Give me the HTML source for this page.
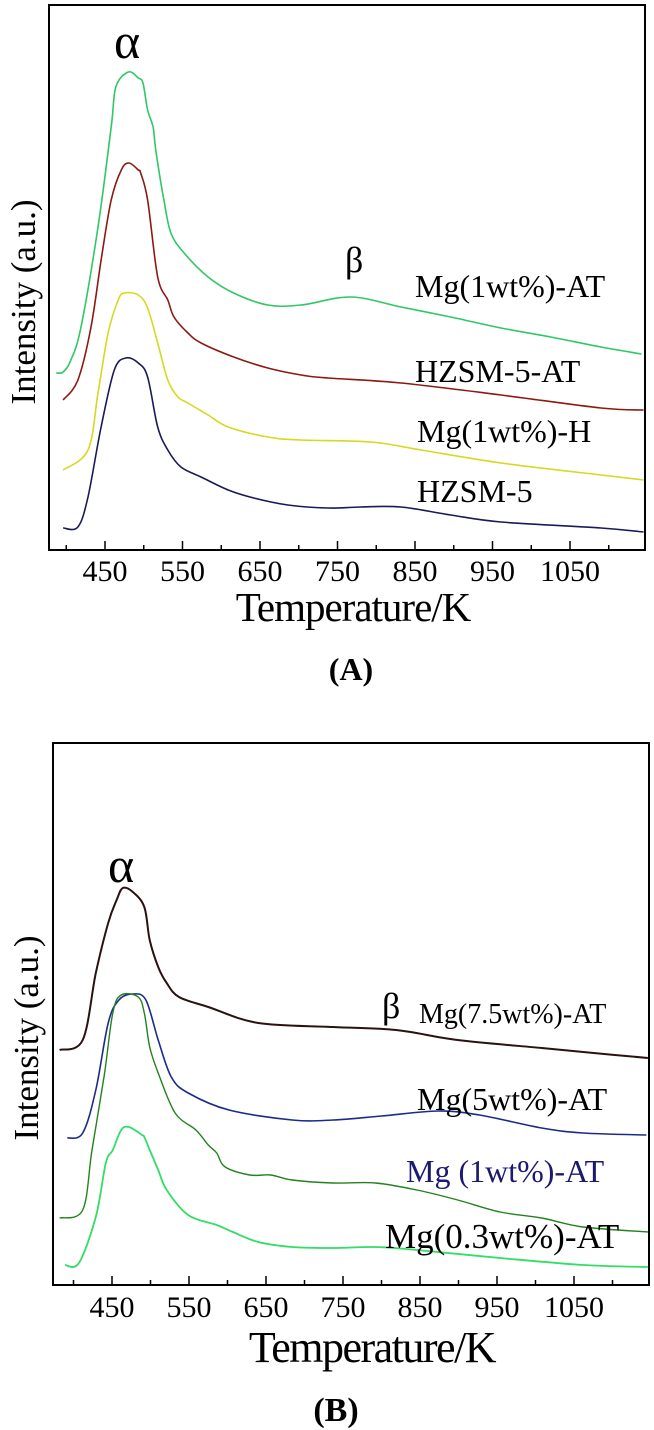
<!DOCTYPE html>
<html><head><meta charset="utf-8">
<style>
html,body{margin:0;padding:0;background:#fff;}
svg{display:block;font-family:"Liberation Serif","Times New Roman",serif;}
</style></head>
<body>
<svg id="fig" width="654" height="1430" viewBox="0 0 654 1430" xmlns="http://www.w3.org/2000/svg">
  <g id="panelA"></g>
  <g id="panelB"></g>
</svg>
<script>
// ---- shared tick data ----
const xTicksMajor = [450, 550, 650, 750, 850, 950, 1050];
const xTicksMinor = [400, 500, 600, 700, 800, 900, 1000, 1100];

// ---- Panel A data (temperature K, intensity a.u.) ----
const aGreenT = [387,396,406,419,441,458,464,480,493,499,505,512,516,526,535,552,583,616,660,703,767,832,896,961,1025,1090,1142];
const aGreenI = [177,178,190,223,323,423,463,478,472,467,440,423,397,350,317,297,273,257,245,245,253,243,233,222,213,203,196];
const aRedT = [396,415,432,445,458,471,481,493,496,505,518,531,539,557,574,616,660,703,738,832,961,1090,1145];
const aRedI = [150,170,223,290,350,380,387,380,377,350,273,250,233,217,207,193,182,175,172,167,155,142,140];
const aYellowT = [396,428,441,454,467,475,493,505,518,531,544,557,583,609,660,703,793,858,961,1090,1145];
const aYellowI = [80,100,157,217,250,257,255,242,207,170,153,147,135,123,113,110,108,100,87,75,70];
const aNavyT = [396,415,428,445,462,477,493,505,518,531,548,574,609,642,686,738,780,832,896,961,1090,1145];
const aNavyI = [22,23,53,123,180,192,187,173,123,100,83,73,60,52,45,42,43,43,35,28,22,18];

// ---- Panel B data ----
const bBlackT = [382,412,429,445,456,464,477,492,499,510,521,537,575,640,737,819,899,1008,1062,1146];
const bBlackI = [235,245,312,362,385,397,393,378,345,318,302,288,278,262,258,255,245,237,233,227];
const bNavyT = [392,412,429,445,459,477,494,510,527,549,602,684,737,800,873,927,1008,1062,1144];
const bNavyI = [147,152,195,262,285,291,285,245,208,192,175,165,165,169,174,170,157,152,150];
const bDkGreenT = [382,412,424,440,451,462,484,492,499,510,532,559,575,586,597,629,656,684,737,792,846,899,954,1008,1062,1146];
const bDkGreenI = [67,75,135,210,272,290,288,272,238,212,172,155,140,132,118,110,110,105,102,102,95,85,73,67,58,53];
const bLtGreenT = [389,407,429,442,451,462,472,489,492,499,510,521,549,586,607,640,684,737,792,846,954,1062,1146];
const bLtGreenI = [20,22,68,122,135,155,158,150,148,135,115,95,70,60,53,43,38,37,38,35,27,20,18];

const NS = "http://www.w3.org/2000/svg";
function mk(tag, attrs, parent){
  const e = document.createElementNS(NS, tag);
  for (const k in attrs) e.setAttribute(k, attrs[k]);
  parent.appendChild(e);
  return e;
}
function smoothPath(pts){
  let d = 'M' + pts[0][0].toFixed(1) + ',' + pts[0][1].toFixed(1);
  for (let i = 0; i < pts.length - 1; i++){
    const p0 = pts[Math.max(0, i-1)], p1 = pts[i], p2 = pts[i+1], p3 = pts[Math.min(pts.length-1, i+2)];
    const c1x = p1[0] + (p2[0]-p0[0])/6, c1y = p1[1] + (p2[1]-p0[1])/6;
    const c2x = p2[0] - (p3[0]-p1[0])/6, c2y = p2[1] - (p3[1]-p1[1])/6;
    d += 'C' + c1x.toFixed(1) + ',' + c1y.toFixed(1) + ' ' + c2x.toFixed(1) + ',' + c2y.toFixed(1) + ' ' + p2[0].toFixed(1) + ',' + p2[1].toFixed(1);
  }
  return d;
}

function drawPanel(g, cfg){
  const xs = t => cfg.x450 + (t - 450) * cfg.kx;
  const ys = v => cfg.bottom - v;
  const frame = mk('rect', {x:cfg.left, y:cfg.top, width:cfg.right-cfg.left, height:cfg.bottom-cfg.top, fill:'none', stroke:'#000', 'stroke-width':2}, g);
  
  
  xTicksMajor.forEach(t => {
    const l = mk('line', {x1:xs(t), x2:xs(t), y1:cfg.bottom, y2:cfg.bottom-9, stroke:'#000', 'stroke-width':1.5}, g);
    
    
    const tx = mk('text', {x:xs(t), y:cfg.tickY, 'font-size':30, 'text-anchor':'middle', fill:'#000'}, g);
    tx.textContent = t;
    
    
  });
  xTicksMinor.forEach(t => {
    const x = xs(t);
    if (x < cfg.left || x > cfg.right) return;
    const l = mk('line', {x1:x, x2:x, y1:cfg.bottom, y2:cfg.bottom-5, stroke:'#000', 'stroke-width':1.5}, g);
    
    
  });
  cfg.series.forEach(s => {
    const pts = s.T.map((t, i) => [xs(t), ys(s.I[i])]);
    const p = mk('path', {d:smoothPath(pts), fill:'none', stroke:s.color, 'stroke-width':s.w || 1.6, 'stroke-linejoin':'round'}, g);
    
    
  });
  cfg.texts.forEach(tt => {
    const a = {x:tt.x, y:tt.y, 'font-size':tt.size, fill:tt.color || '#000'};
    if (tt.anchor) a['text-anchor'] = tt.anchor;
    if (tt.weight) a['font-weight'] = tt.weight;
    if (tt.ls) a['letter-spacing'] = tt.ls;
    if (tt.rot) a.transform = 'rotate(-90 ' + tt.x + ' ' + tt.y + ')';
    const e = mk('text', a, g);
    e.textContent = tt.text;
    
    
  });
}

drawPanel(document.getElementById('panelA'), {
  left:49, right:645, top:5, bottom:550, x450:105, kx:0.775, tickY:581,
  series:[
    {name:'series-mg1-at', T:aGreenT, I:aGreenI, color:'#2fc864'},
    {name:'series-hzsm5-at', T:aRedT, I:aRedI, color:'#8b1a12'},
    {name:'series-mg1-h', T:aYellowT, I:aYellowI, color:'#d8d820'},
    {name:'series-hzsm5', T:aNavyT, I:aNavyI, color:'#1a1a5a'}
  ],
  texts:[
    {name:'alpha-peak-label', text:'α', x:114, y:58, size:50},
    {name:'beta-peak-label', text:'β', x:345, y:272, size:36},
    {name:'legend-mg1-at', text:'Mg(1wt%)-AT', x:415, y:297, size:32},
    {name:'legend-hzsm5-at', text:'HZSM-5-AT', x:415, y:382, size:32},
    {name:'legend-mg1-h', text:'Mg(1wt%)-H', x:417, y:442, size:32},
    {name:'legend-hzsm5', text:'HZSM-5', x:417, y:502, size:32},
    {name:'y-axis-title', text:'Intensity (a.u.)', x:35, y:302, size:35, anchor:'middle', rot:true},
    {name:'x-axis-title', text:'Temperature/K', x:353, y:621, size:41, anchor:'middle', ls:-1},
    {name:'panel-label-a', text:'(A)', x:351, y:680, size:32, anchor:'middle', weight:'bold'}
  ]
});

drawPanel(document.getElementById('panelB'), {
  left:53, right:649, top:743, bottom:1285, x450:112, kx:0.77, tickY:1317,
  series:[
    {name:'series-mg7-5-at', T:bBlackT, I:bBlackI, color:'#2a1210', w:2},
    {name:'series-mg5-at', T:bNavyT, I:bNavyI, color:'#1c2a8a'},
    {name:'series-mg1-at', T:bDkGreenT, I:bDkGreenI, color:'#23821e', w:1.4},
    {name:'series-mg0-3-at', T:bLtGreenT, I:bLtGreenI, color:'#33dd66', w:1.8}
  ],
  texts:[
    {name:'alpha-peak-label', text:'α', x:108, y:882, size:50},
    {name:'beta-peak-label', text:'β', x:382, y:1018, size:36},
    {name:'legend-mg7-5-at', text:'Mg(7.5wt%)-AT', x:419, y:1023, size:28},
    {name:'legend-mg5-at', text:'Mg(5wt%)-AT', x:417, y:1110, size:32},
    {name:'legend-mg1-at', text:'Mg (1wt%)-AT', x:406, y:1182, size:32, color:'#1a1a6e'},
    {name:'legend-mg0-3-at', text:'Mg(0.3wt%)-AT', x:385, y:1248, size:35},
    {name:'y-axis-title', text:'Intensity (a.u.)', x:38, y:1038, size:35, anchor:'middle', rot:true},
    {name:'x-axis-title', text:'Temperature/K', x:372, y:1362, size:44, anchor:'middle', ls:-1.5},
    {name:'panel-label-b', text:'(B)', x:336, y:1421, size:34, anchor:'middle', weight:'bold'}
  ]
});
</script>
</body></html>
